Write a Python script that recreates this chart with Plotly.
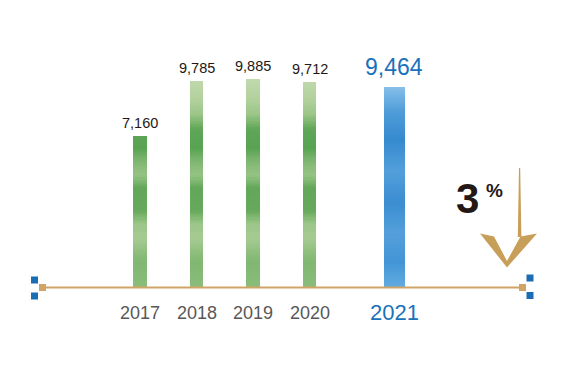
import plotly.graph_objects as go

# ---- data ----
years = ["2017", "2018", "2019", "2020", "2021"]
values = [7160, 9785, 9885, 9712, 9464]
change_label = "3"
change_unit = "%"

# ---- layout constants (window pixels) ----
W, H = 577, 385
OFF = 8                                 # default page body margin
FW, FH = W - 2 * OFF, H - 2 * OFF       # figure size so the page does not overflow
X0_PX, STEP_PX = 140.0, 56.5            # window x of first bar and bar spacing
BASE_PX = 287.0                         # window y of the value 0
PX_PER_UNIT = 0.02107                   # pixels per value unit
x_pos = [0, 1, 2, 3, 4.5]               # slot positions (last bar set apart)
bar_w = [0.24, 0.24, 0.24, 0.24, 0.37]

x_range = [(OFF - X0_PX) / STEP_PX, (OFF + FW - X0_PX) / STEP_PX]
y_max = (BASE_PX - OFF) / PX_PER_UNIT
y_min = (BASE_PX - OFF - FH) / PX_PER_UNIT


def px(x):
    return (x - OFF) / FW


def py(y):
    return 1 - (y - OFF) / FH


def hex2rgb(h):
    h = h.lstrip("#")
    return tuple(int(h[i:i + 2], 16) for i in (0, 2, 4))


def interp(stops, v):
    for (v0, c0), (v1, c1) in zip(stops, stops[1:]):
        if v0 <= v <= v1:
            t = (v - v0) / (v1 - v0) if v1 > v0 else 0
            a, b = hex2rgb(c0), hex2rgb(c1)
            return "rgb(%d,%d,%d)" % tuple(round(a[i] + (b[i] - a[i]) * t) for i in range(3))
    return stops[-1][1]


green_stops = [(0, "#8abd7b"), (1200, "#80b771"), (2300, "#a5ca91"), (3000, "#9cc689"),
               (3600, "#67a95d"), (4700, "#62a75a"), (5300, "#95c383"), (5900, "#82b874"),
               (6600, "#58a252"), (7500, "#5fa658"), (8200, "#9cc688"), (9000, "#b4d29f"),
               (10000, "#c2dab0")]
blue_stops = [(0, "#62abe0"), (1200, "#4295d6"), (2600, "#559fdb"), (4000, "#3a8dd1"),
              (5500, "#539fdb"), (7000, "#358acf"), (8400, "#519eda"), (9500, "#88c0e9"),
              (10000, "#8cc3ea")]

fig = go.Figure()

# bars drawn as stacked colour bands so they read as a vertical gradient
band = 100
nb = int(max(values) / band) + 1
for k in range(nb):
    lo = k * band
    ys, cols = [], []
    for i, v in enumerate(values):
        hi = min(v, lo + band * 1.6)
        ys.append(max(hi - lo, 0))
        stops = blue_stops if i == len(values) - 1 else green_stops
        cols.append(interp(stops, lo + band / 2))
    fig.add_trace(go.Bar(
        x=x_pos, y=ys, base=[lo] * len(values), width=bar_w,
        marker=dict(color=cols, line=dict(width=0)),
        hoverinfo="skip", showlegend=False,
    ))

# value labels
for i, (xp, v) in enumerate(zip(x_pos, values)):
    last = i == len(values) - 1
    fig.add_annotation(
        x=xp, y=v, xref="x", yref="y", text=f"{v:,}", showarrow=False,
        yanchor="bottom", yshift=(6 if last else 3),
        font=dict(family="Liberation Sans, Arial, sans-serif",
                  size=(23 if last else 14.5),
                  color=("#1a72bb" if last else "#231815")),
    )

# year labels
for i, (xp, yr) in enumerate(zip(x_pos, years)):
    last = i == len(years) - 1
    fig.add_annotation(
        x=xp, y=py(312.0 if last else 313.0), xref="x", yref="paper", text=yr,
        showarrow=False, yanchor="middle",
        font=dict(family="Liberation Sans, Arial, sans-serif",
                  size=(22 if last else 18),
                  color=("#1a72bb" if last else "#595757")),
    )

# change figure
fig.add_annotation(x=px(467), y=py(198), xref="paper", yref="paper", text=f"<b>{change_label}</b>",
                   showarrow=False, xanchor="center", yanchor="middle",
                   font=dict(family="Liberation Sans, Arial, sans-serif", size=42, color="#231815"))
fig.add_annotation(x=px(494.5), y=py(190.5), xref="paper", yref="paper", text=f"<b>{change_unit}</b>",
                   showarrow=False, xanchor="center", yanchor="middle",
                   font=dict(family="Liberation Sans, Arial, sans-serif", size=19, color="#231815"))

gold = "#c89f58"
tan = "#cfa464"
blue = "#1a6db5"


def path(pts):
    return "M " + " L ".join(f"{px(x)},{py(y)}" for x, y in pts) + " Z"


def rect(x0, y0, x1, y1, color):
    return dict(type="rect", xref="paper", yref="paper", x0=px(x0), x1=px(x1), y0=py(y1), y1=py(y0),
                fillcolor=color, line=dict(width=0), layer="above")


shapes = [
    # axis line
    dict(type="line", xref="paper", yref="paper", x0=px(46), x1=px(520), y0=py(287.5), y1=py(287.5),
         line=dict(color=tan, width=2), layer="above"),
    rect(39, 284, 46, 291, tan),
    rect(519, 284, 526, 291, tan),
    rect(31, 276.5, 38, 283.5, blue),
    rect(31, 292.5, 38, 299.5, blue),
    rect(526.5, 274.5, 533.5, 281.5, blue),
    rect(526.5, 292, 533.5, 299, blue),
    # arrow shaft
    dict(type="path", xref="paper", yref="paper",
         path=path([(519.0, 168), (520.2, 168), (521.4, 237), (517.8, 237)]),
         fillcolor=gold, line=dict(width=0), layer="above"),
    # arrow head (open chevron)
    dict(type="path", xref="paper", yref="paper",
         path=path([(480, 233.5), (494, 236.5), (507, 261), (520.5, 236.5), (537, 233.5), (507, 267.5)]),
         fillcolor=gold, line=dict(width=0), layer="above"),
]

fig.update_layout(
    width=FW, height=FH,
    margin=dict(l=0, r=0, t=0, b=0),
    paper_bgcolor="white", plot_bgcolor="white",
    barmode="overlay", bargap=0,
    xaxis=dict(range=x_range, visible=False, fixedrange=True),
    yaxis=dict(range=[y_min, y_max], visible=False, fixedrange=True),
    shapes=shapes,
    showlegend=False,
)

fig.write_html("out.html")
